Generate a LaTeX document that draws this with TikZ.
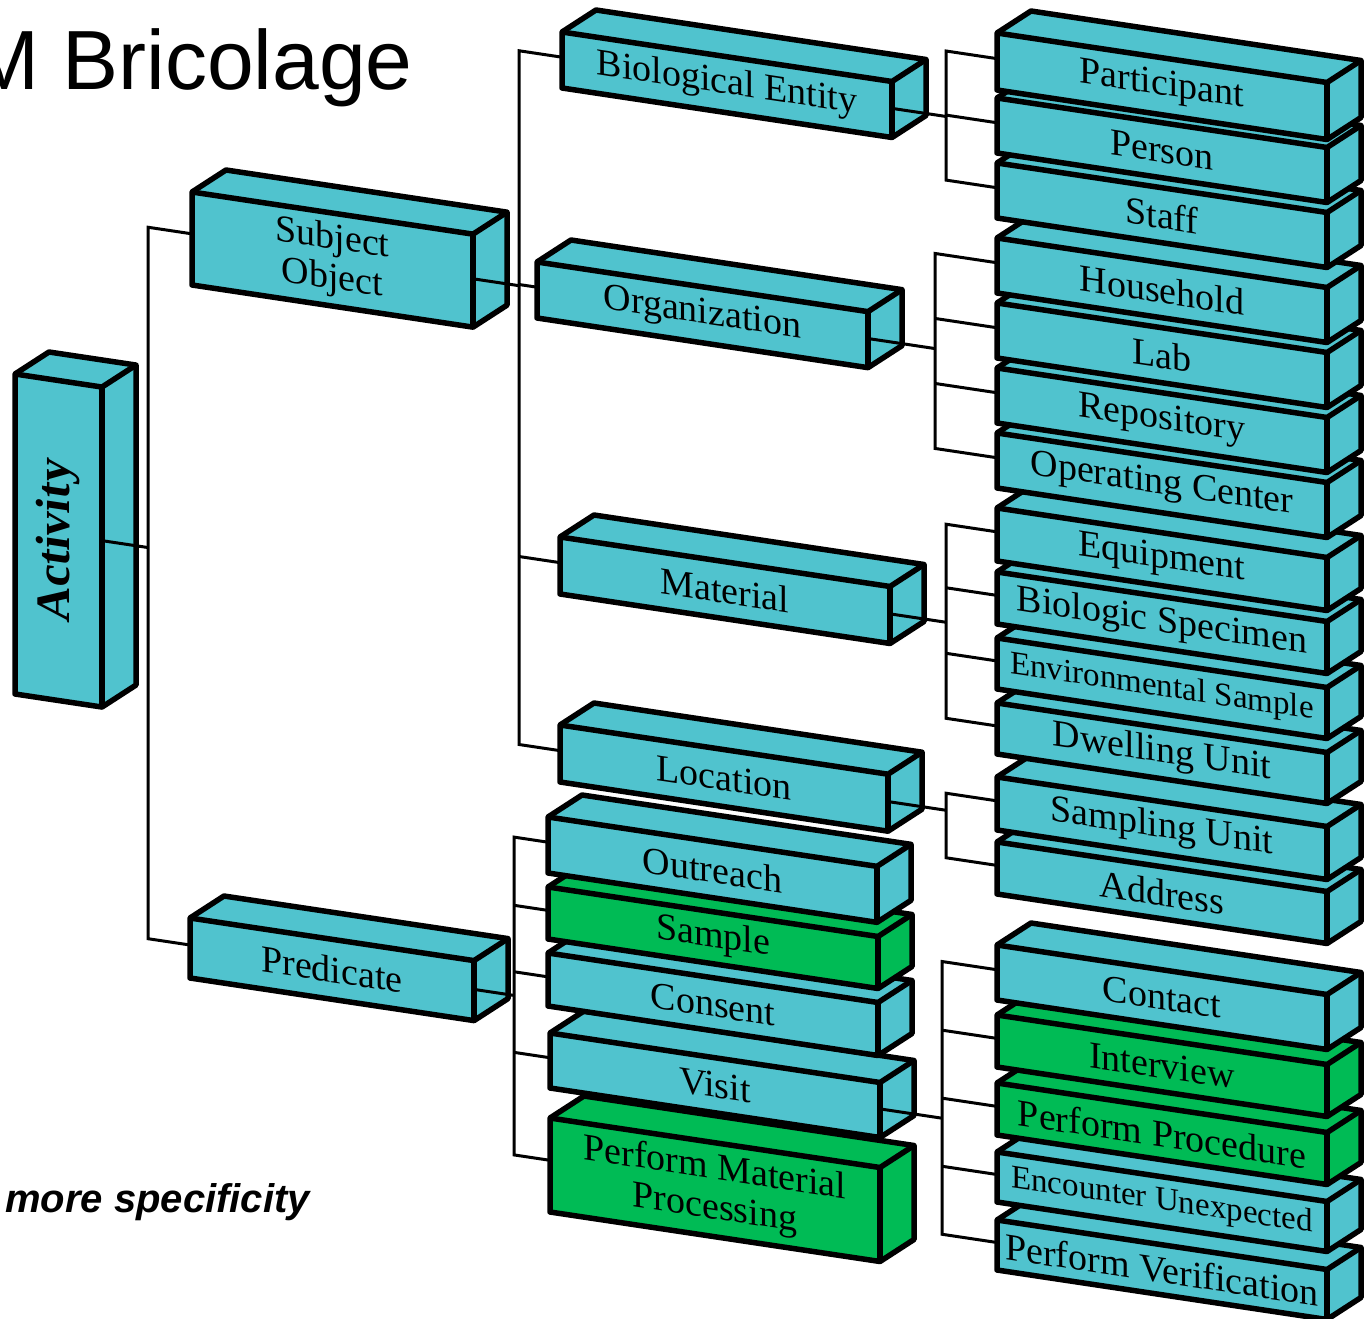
\documentclass[tikz,border=0pt]{standalone}
\usepackage{fontspec}
\setmainfont{Liberation Serif}
\newfontfamily\headfont{Liberation Sans}
\usetikzlibrary{calc}
\definecolor{boxcyan}{HTML}{50C3CE}
\definecolor{boxgreen}{HTML}{00BB55}
\tikzset{
  boxline/.style={line width=5.5pt, line join=round},
  conn/.style={line width=3pt},
  boxtext/.style={inner sep=0pt, yslant=-0.15, align=center,
    font=\fontsize{38}{40}\selectfont},
  smalltext/.style={font=\fontsize{33}{35}\selectfont},
}
% a slanted prism: name, x, y, width, height, fill, text options, text
\newcommand\cube[8]{%
  \begin{scope}[shift={(#2,#3)}]
    \filldraw[boxline, fill=#6] (0,0) -- (34,-22) -- ({#4+34},{0.15*#4-22})
      -- ({#4+34},{0.15*#4-22+#5}) -- ({#4},{0.15*#4+#5}) -- (0,#5) -- cycle;
    \draw[boxline] (0,0) -- ({#4},{0.15*#4}) -- ({#4+34},{0.15*#4-22});
    \draw[boxline] ({#4},{0.15*#4}) -- ({#4},{0.15*#4+#5});
    \coordinate (#1-in) at (0,{0.45*#5});
    \coordinate (#1-out) at ({#4},{0.15*#4+0.48*#5});
    \node[boxtext,#7] (#1) at ({#4/2},{0.075*#4+#5/2}) {#8};
  \end{scope}}
% point on a trunk at x=#1 for the branch into child #2
\newcommand\tpoint[2]{\path let \p1=(#2-in) in (#1pt,{\y1+0.15*(\x1-#1pt)}) coordinate (#2-t);}
% line from parent #1 out to its trunk at x=#2
\newcommand\feed[2]{\path let \p1=(#1-out) in (#2pt,{\y1-0.15*(#2pt-\x1)}) coordinate (#1-j);
  \draw[conn] (#1-out) -- (#1-j);}
% trunk at x=#1 from child #2 to child #3, middle children #4
\newcommand\trunk[4]{%
  \tpoint{#1}{#2}\tpoint{#1}{#3}
  \draw[conn] (#2-in) -- (#2-t) -- (#3-t) -- (#3-in);
  \foreach \c in {#4}{\tpoint{#1}{\c}\draw[conn] (\c-t) -- (\c-in);}}

\begin{document}
\begin{tikzpicture}[x=1pt,y=-1pt]
\useasboundingbox (0,0) rectangle (1366,1319);
\clip (0,0) rectangle (1366,1319);

% headings
\node[anchor=base west, inner sep=0pt, font=\headfont\fontsize{84}{90}\selectfont] (title) at (-31,90) {M Bricolage};
\node[anchor=base west, inner sep=0pt, font=\headfont\bfseries\itshape\fontsize{40}{44}\selectfont] (note) at (5,1212) {more specificity};

% left column
\cube{activity}{15}{374}{87}{320}{boxcyan}{rotate=90,font=\bfseries\fontsize{48}{50}\selectfont}{Activity}
\cube{subj}{192}{192}{281}{93}{boxcyan}{}{Subject\\Object}
\cube{pred}{190}{918}{284}{60}{boxcyan}{}{Predicate}

% middle column, lowest first
\cube{pmp}{550}{1118}{330}{94}{boxgreen}{}{Perform Material\\Processing}
\cube{visit}{550}{1033}{330}{55}{boxcyan}{}{Visit}
\cube{consent}{548}{953}{330}{53}{boxcyan}{}{Consent}
\cube{sample}{548}{887}{330}{52}{boxgreen}{}{Sample}
\cube{outreach}{548}{817}{329}{56}{boxcyan}{}{Outreach}
\cube{loc}{560}{725}{328}{57}{boxcyan}{}{Location}
\cube{mat}{560}{537}{330}{57}{boxcyan}{}{Material}
\cube{org}{537}{262}{331}{56}{boxcyan}{}{Organization}
\cube{bio}{562}{32}{330}{56}{boxcyan}{}{Biological Entity}

% right column, lowest first
\cube{verification}{997}{1220}{330}{50}{boxcyan}{}{Perform Verification}
\cube{encounter}{997}{1152}{330}{50}{boxcyan}{smalltext}{Encounter Unexpected}
\cube{procedure}{997}{1083}{330}{52}{boxgreen}{}{Perform Procedure}
\cube{interview}{997}{1015}{330}{52}{boxgreen}{}{Interview}
\cube{contact}{997}{945}{330}{55}{boxcyan}{}{Contact}
\cube{address}{997}{842}{330}{52}{boxcyan}{}{Address}
\cube{sampling}{997}{777}{330}{53}{boxcyan}{}{Sampling Unit}
\cube{dwelling}{997}{703}{330}{51}{boxcyan}{}{Dwelling Unit}
\cube{envsample}{997}{638}{330}{51}{boxcyan}{smalltext}{Environmental Sample}
\cube{biospec}{997}{572}{330}{52}{boxcyan}{}{Biologic Specimen}
\cube{equipment}{997}{508}{330}{53}{boxcyan}{}{Equipment}
\cube{opcenter}{997}{433}{330}{55}{boxcyan}{}{Operating Center}
\cube{repository}{997}{368}{330}{55}{boxcyan}{}{Repository}
\cube{lab}{997}{303}{330}{55}{boxcyan}{}{Lab}
\cube{household}{997}{238}{330}{55}{boxcyan}{}{Household}
\cube{staff}{997}{163}{330}{55}{boxcyan}{}{Staff}
\cube{person}{997}{98}{330}{55}{boxcyan}{}{Person}
\cube{participant}{997}{33}{330}{57}{boxcyan}{}{Participant}

% connectors
\trunk{148}{subj}{pred}{}
\feed{activity}{148}
\trunk{519}{bio}{loc}{org,mat}
\feed{subj}{519}
\trunk{514}{outreach}{pmp}{sample,consent,visit}
\feed{pred}{514}
\trunk{946}{participant}{staff}{person}
\feed{bio}{946}
\trunk{935}{household}{opcenter}{lab,repository}
\feed{org}{935}
\trunk{946}{equipment}{dwelling}{biospec,envsample}
\feed{mat}{946}
\trunk{946}{sampling}{address}{}
\feed{loc}{946}
\trunk{942}{contact}{verification}{interview,procedure,encounter}
\feed{visit}{942}
\end{tikzpicture}
\end{document}
